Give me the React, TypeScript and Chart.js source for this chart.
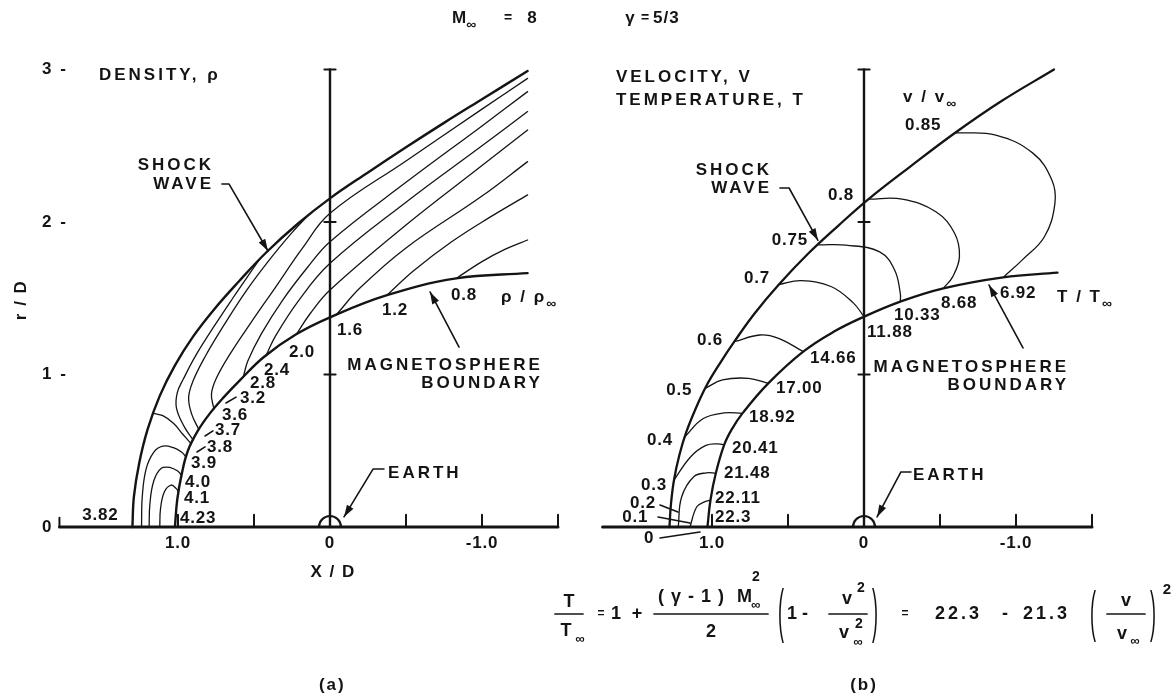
import { useEffect, useRef } from "react";
import { Chart, registerables } from "chart.js";

Chart.register(...registerables);

type Pt = [number, number];
type Tag = { text: string; x: number; y: number; align?: CanvasTextAlign };
type Leader = { pts: Pt[]; head: boolean };

// ---------------- panel (a): density field, rho / rho_inf ----------------
const shockA: Pt[] = [
  [1.3, 0], [1.29, 0.2], [1.255, 0.42], [1.2, 0.64], [1.12, 0.86], [1.02, 1.06], [0.9, 1.25],
  [0.76, 1.43], [0.6, 1.61], [0.42, 1.8], [0.21, 1.99], [0.0, 2.155], [-0.25, 2.325],
  [-0.5, 2.49], [-0.75, 2.65], [-1.0, 2.805], [-1.3, 2.99],
];
const boundaryA: Pt[] = [
  [1.02, 0], [1.005, 0.18], [0.975, 0.35], [0.935, 0.5], [0.87, 0.63], [0.79, 0.745], [0.7, 0.85],
  [0.59, 0.965], [0.435, 1.115], [0.22, 1.265], [0.0, 1.375], [-0.375, 1.52], [-0.83, 1.63], [-1.3, 1.665],
];
const rho41: Pt[] = [[1.12, 0], [1.115, 0.12], [1.09, 0.23], [1.045, 0.275], [1.01, 0.25], [0.997, 0.23]];
const rho40: Pt[] = [[1.19, 0], [1.185, 0.15], [1.16, 0.3], [1.11, 0.385], [1.05, 0.39], [1.0, 0.365], [0.978, 0.34]];
const rho39: Pt[] = [[1.24, 0], [1.235, 0.2], [1.21, 0.38], [1.16, 0.49], [1.1, 0.53], [1.03, 0.52], [0.975, 0.49], [0.948, 0.46]];
const rho38: Pt[] = [[1.162, 0.745], [1.1, 0.73], [1.03, 0.68], [0.97, 0.61], [0.913, 0.545]];
const rho37: Pt[] = [[0.9, 0.57], [0.96, 0.66], [1.01, 0.78], [1.005, 0.88], [0.965, 0.97], [0.88, 1.13], [0.76, 1.32], [0.64, 1.5], [0.53, 1.66], [0.46, 1.76]];
const rho36: Pt[] = [[0.863, 0.64], [0.91, 0.74], [0.93, 0.85], [0.9, 0.96], [0.82, 1.12], [0.7, 1.32], [0.55, 1.55], [0.4, 1.75], [0.25, 1.93], [0.15, 2.037]];
const rho32: Pt[] = [[0.764, 0.775], [0.78, 0.87], [0.75, 0.97], [0.66, 1.13], [0.52, 1.34], [0.36, 1.57], [0.18, 1.83], [0.0, 2.057], [-0.5, 2.4], [-1.0, 2.74], [-1.3, 2.942]];
const rho28: Pt[] = [[0.57, 0.986], [0.54, 1.09], [0.45, 1.27], [0.31, 1.49], [0.15, 1.7], [0.0, 1.871], [-0.5, 2.26], [-1.0, 2.63], [-1.3, 2.855]];
const rho24: Pt[] = [[0.42, 1.125], [0.36, 1.25], [0.21, 1.48], [0.0, 1.729], [-0.5, 2.13], [-1.0, 2.5], [-1.3, 2.724]];
const rho20: Pt[] = [[0.22, 1.265], [0.13, 1.4], [0.0, 1.554], [-0.5, 1.98], [-1.0, 2.37], [-1.3, 2.604]];
const rho16: Pt[] = [[-0.04, 1.39], [-0.2, 1.57], [-0.5, 1.83], [-1.0, 2.17], [-1.3, 2.396]];
const rho12: Pt[] = [[-0.375, 1.52], [-0.55, 1.68], [-0.8, 1.87], [-1.05, 2.03], [-1.3, 2.178]];
const rho08: Pt[] = [[-0.83, 1.63], [-1.0, 1.74], [-1.15, 1.82], [-1.3, 1.882]];
const rhoLines: Pt[][] = [rho41, rho40, rho39, rho38, rho37, rho36, rho32, rho28, rho24, rho20, rho16, rho12, rho08];

// ---------------- panel (b): velocity v / v_inf and temperature T / T_inf ----------------
const shockB: Pt[] = [
  [1.28, 0], [1.27, 0.15], [1.25, 0.308], [1.215, 0.47], [1.17, 0.62], [1.11, 0.77], [1.04, 0.92],
  [0.95, 1.07], [0.85, 1.22], [0.72, 1.4], [0.56, 1.59], [0.37, 1.79], [0.17, 1.975], [-0.03, 2.15],
  [-0.3, 2.36], [-0.6, 2.585], [-0.9, 2.79], [-1.25, 3.0],
];
const boundaryB: Pt[] = [
  [1.03, 0], [1.01, 0.177], [0.975, 0.352], [0.92, 0.538], [0.87, 0.64], [0.8, 0.745], [0.63, 0.942],
  [0.4, 1.15], [0.2, 1.28], [0.0, 1.379], [-0.239, 1.478], [-0.522, 1.565], [-0.916, 1.637], [-1.273, 1.668],
];
const v85: Pt[] = [[-0.6, 2.585], [-0.867, 2.57], [-1.113, 2.45], [-1.236, 2.275], [-1.256, 2.122], [-1.187, 1.903], [-1.04, 1.75], [-0.916, 1.637]];
const v80: Pt[] = [[-0.03, 2.15], [-0.251, 2.15], [-0.473, 2.067], [-0.596, 1.926], [-0.628, 1.773], [-0.584, 1.642], [-0.522, 1.565]];
const v75: Pt[] = [[0.3, 1.85], [0.118, 1.848], [-0.103, 1.804], [-0.202, 1.684], [-0.239, 1.531], [-0.239, 1.478]];
const v70: Pt[] = [[0.56, 1.59], [0.414, 1.615], [0.217, 1.577], [0.069, 1.468], [0.0, 1.379]];
const v60: Pt[] = [[0.853, 1.215], [0.685, 1.259], [0.562, 1.237], [0.4, 1.15]];
const v50: Pt[] = [[1.045, 0.909], [0.931, 0.964], [0.76, 0.975], [0.63, 0.942]];
const v40: Pt[] = [[1.178, 0.592], [1.06, 0.71], [0.92, 0.748], [0.8, 0.745]];
const v30: Pt[] = [[1.25, 0.308], [1.14, 0.461], [1.04, 0.535], [0.96, 0.545], [0.92, 0.538]];
const v20: Pt[] = [[1.222, 0], [1.2, 0.197], [1.12, 0.33], [1.035, 0.355], [0.975, 0.352]];
const v10: Pt[] = [[1.145, 0], [1.1, 0.133], [1.046, 0.166], [1.01, 0.177]];
const vLines: Pt[][] = [v85, v80, v75, v70, v60, v50, v40, v30, v20, v10];

// ---------------- axes ----------------
const xTickMarks = [1.0, 0.5, -0.5, -1.0, -1.5];
const xTickValues = [1.0, 0, -1.0];
const xTickText = ["1.0", "0", "-1.0"];
const yTickValues = [3, 2, 1, 0];
const yTickText = ["3 -", "2 -", "1 -", "0"];
const axisTickRows = [1, 2, 3];

// ---------------- annotations (data coordinates) ----------------
const rhoTags: Tag[] = [
  { text: "3.82", x: 1.63, y: 0.079 },
  { text: "4.23", x: 0.987, y: 0.059 },
  { text: "4.1", x: 0.96, y: 0.19 },
  { text: "4.0", x: 0.954, y: 0.295 },
  { text: "3.9", x: 0.914, y: 0.42 },
  { text: "3.8", x: 0.81, y: 0.525 },
  { text: "3.7", x: 0.757, y: 0.636 },
  { text: "3.6", x: 0.71, y: 0.734 },
  { text: "3.2", x: 0.592, y: 0.846 },
  { text: "2.8", x: 0.526, y: 0.944 },
  { text: "2.4", x: 0.434, y: 1.03 },
  { text: "2.0", x: 0.27, y: 1.148 },
  { text: "1.6", x: -0.046, y: 1.292 },
  { text: "1.2", x: -0.342, y: 1.423 },
  { text: "0.8", x: -0.796, y: 1.521 },
];
const leadersA: Leader[] = [
  { pts: [[0.711, 2.249], [0.664, 2.249], [0.408, 1.81]], head: true },
  { pts: [[-0.849, 1.18], [-0.658, 1.541]], head: true },
  { pts: [[-0.355, 0.38], [-0.283, 0.38], [-0.092, 0.066]], head: true },
  { pts: [[0.684, 0.813], [0.618, 0.852]], head: false },
  { pts: [[0.822, 0.597], [0.77, 0.63]], head: false },
  { pts: [[0.875, 0.492], [0.822, 0.525]], head: false },
];

const vTags: Tag[] = [
  { text: "0.85", x: -0.27, y: 2.636, align: "left" },
  { text: "0.8", x: 0.066, y: 2.177, align: "right" },
  { text: "0.75", x: 0.368, y: 1.882, align: "right" },
  { text: "0.7", x: 0.618, y: 1.633, align: "right" },
  { text: "0.6", x: 0.928, y: 1.226, align: "right" },
  { text: "0.5", x: 1.13, y: 0.898, align: "right" },
  { text: "0.4", x: 1.257, y: 0.57, align: "right" },
  { text: "0.3", x: 1.296, y: 0.275, align: "right" },
  { text: "0.2", x: 1.368, y: 0.157, align: "right" },
  { text: "0.1", x: 1.42, y: 0.066, align: "right" },
  { text: "0", x: 1.38, y: -0.072, align: "right" },
];
const tempTags: Tag[] = [
  { text: "22.3", x: 0.98, y: 0.066 },
  { text: "22.11", x: 0.98, y: 0.19 },
  { text: "21.48", x: 0.921, y: 0.354 },
  { text: "20.41", x: 0.868, y: 0.518 },
  { text: "18.92", x: 0.757, y: 0.721 },
  { text: "17.00", x: 0.579, y: 0.911 },
  { text: "14.66", x: 0.355, y: 1.108 },
  { text: "11.88", x: -0.02, y: 1.279 },
  { text: "10.33", x: -0.197, y: 1.39 },
  { text: "8.68", x: -0.507, y: 1.469 },
  { text: "6.92", x: -0.895, y: 1.534 },
];
const leadersB: Leader[] = [
  { pts: [[0.553, 2.223], [0.493, 2.223], [0.303, 1.88]], head: true },
  { pts: [[-1.046, 1.174], [-0.822, 1.587]], head: true },
  { pts: [[-0.309, 0.361], [-0.243, 0.361], [-0.086, 0.066]], head: true },
  { pts: [[1.342, 0.144], [1.224, 0.098]], head: false },
  { pts: [[1.355, 0.066], [1.145, 0.026]], head: false },
  { pts: [[1.342, -0.072], [1.079, -0.033]], head: false },
];

// ---------------- page frame ----------------
const W = 1176;
const H = 698;
const PX_X = 152;
const PX_Y = 152.5;
const ROW0 = 527;
const ORIGIN_A = 330;
const ORIGIN_B = 864;
const X_LEFT = 1.8;
const X_RIGHT = -1.5;
const Y_TOP = 3.1;
const INK = "#141414";
const FONT = "'Liberation Sans', 'DejaVu Sans', sans-serif";
const NUM = 0.8; // letter spacing for numerals
const CAPS = 3; // letter spacing for lettering

const line = (pts: Pt[], width: number, tension = 0.4) => ({
  data: pts.map(([x, y]) => ({ x, y })),
  showLine: true,
  borderColor: INK,
  backgroundColor: INK,
  borderWidth: width,
  pointRadius: 0,
  tension,
  fill: false,
  clip: false as const,
  borderCapStyle: "round" as const,
  borderJoinStyle: "round" as const,
});

function axisSets(leftEnd: number, leftEndTick: boolean) {
  const sets: any[] = [line([[leftEnd, 0], [X_RIGHT, 0]], 3, 0), line([[0, 0], [0, 3]], 2.4, 0)];
  for (const t of xTickMarks) sets.push(line([[t, 0], [t, 0.08]], 2, 0));
  if (leftEndTick) sets.push(line([[leftEnd, 0], [leftEnd, 0.06]], 2, 0));
  for (const r of axisTickRows) sets.push(line([[0.037, r], [-0.037, r]], 2, 0));
  return sets;
}

function put(ctx: CanvasRenderingContext2D, s: string, x: number, y: number, align: CanvasTextAlign = "left", size = 17, spacing = NUM) {
  ctx.font = `bold ${size}px ${FONT}`;
  (ctx as any).letterSpacing = `${spacing}px`;
  ctx.textAlign = align;
  ctx.textBaseline = "middle";
  ctx.fillText(s, x, y);
}

function withSub(ctx: CanvasRenderingContext2D, main: string, sub: string, x: number, y: number, size = 17, spacing = 2) {
  put(ctx, main, x, y, "left", size, spacing);
  const w = ctx.measureText(main).width;
  put(ctx, sub, x + w, y + 7, "left", Math.round(size * 0.8), 0);
}

function segs(ctx: CanvasRenderingContext2D, pts: [number, number][], width = 1.5) {
  ctx.lineWidth = width;
  ctx.beginPath();
  pts.forEach(([x, y], i) => (i ? ctx.lineTo(x, y) : ctx.moveTo(x, y)));
  ctx.stroke();
}

function arrowHead(ctx: CanvasRenderingContext2D, from: [number, number], to: [number, number]) {
  const a = Math.atan2(to[1] - from[1], to[0] - from[0]);
  const len = 12;
  const half = 3.8;
  ctx.beginPath();
  ctx.moveTo(to[0], to[1]);
  ctx.lineTo(to[0] - len * Math.cos(a) + half * Math.sin(a), to[1] - len * Math.sin(a) - half * Math.cos(a));
  ctx.lineTo(to[0] - len * Math.cos(a) - half * Math.sin(a), to[1] - len * Math.sin(a) + half * Math.cos(a));
  ctx.closePath();
  ctx.fill();
}

function bigParen(ctx: CanvasRenderingContext2D, ch: string, x: number, y: number, stretch: number) {
  ctx.save();
  ctx.translate(x, y);
  ctx.scale(1, stretch);
  ctx.font = `${18}px ${FONT}`;
  (ctx as any).letterSpacing = "0px";
  ctx.textAlign = "center";
  ctx.textBaseline = "middle";
  ctx.fillText(ch, 0, 0);
  ctx.restore();
}

function common(chart: Chart, tags: Tag[], leaders: Leader[]) {
  const ctx = chart.ctx;
  const X = (v: number) => chart.scales.x.getPixelForValue(v);
  const Y = (v: number) => chart.scales.y.getPixelForValue(v);
  ctx.fillStyle = INK;
  ctx.strokeStyle = INK;
  ctx.lineCap = "round";
  ctx.lineJoin = "round";

  // Earth at the origin
  ctx.lineWidth = 2.2;
  ctx.beginPath();
  ctx.arc(X(0), Y(0), 11, Math.PI, 2 * Math.PI);
  ctx.stroke();

  xTickValues.forEach((v, i) => put(ctx, xTickText[i], X(v), Y(-0.105), "center"));

  for (const t of tags) put(ctx, t.text, X(t.x), Y(t.y), t.align ?? "left");

  for (const l of leaders) {
    const p = l.pts.map(([x, y]) => [X(x), Y(y)] as [number, number]);
    segs(ctx, p, 1.6);
    if (l.head) arrowHead(ctx, p[p.length - 2], p[p.length - 1]);
  }
  return { ctx, X, Y };
}

function drawA(chart: Chart) {
  const { ctx, X, Y } = common(chart, rhoTags, leadersA);
  ctx.save();

  yTickValues.forEach((v, i) => put(ctx, yTickText[i], X(1.895), Y(v), "left", 17, 2));
  ctx.save();
  ctx.translate(X(2.033), Y(1.489));
  ctx.rotate(-Math.PI / 2);
  put(ctx, "r / D", 0, 0, "center", 17, 1.5);
  ctx.restore();
  put(ctx, "X / D", X(-0.02), Y(-0.3), "center", 17, 1.5);

  put(ctx, "DENSITY, ρ", X(1.52), Y(2.964), "left", 17, CAPS);
  put(ctx, "SHOCK", X(0.763), Y(2.374), "right", 17, CAPS);
  put(ctx, "WAVE", X(0.763), Y(2.249), "right", 17, CAPS);
  put(ctx, "MAGNETOSPHERE", X(-1.4), Y(1.062), "right", 17, CAPS);
  put(ctx, "BOUNDARY", X(-1.4), Y(0.944), "right", 17, CAPS);
  put(ctx, "EARTH", X(-0.382), Y(0.354), "left", 17, CAPS);
  withSub(ctx, "ρ / ρ", "∞", X(-1.125), Y(1.508));
  put(ctx, "(a)", X(-0.015), Y(-1.036), "center", 17, 2);

  // figure heading
  withSub(ctx, "M", "∞", 452, 18, 17, 0);
  put(ctx, "=", 508, 18, "center", 14, 0);
  put(ctx, "8", 532, 18, "center", 17, 0);
  put(ctx, "γ", 630, 18, "center", 17, 0);
  put(ctx, "=", 645, 18, "center", 14, 0);
  put(ctx, "5/3", 653, 18, "left", 17, 1);
  ctx.restore();
}

function drawFormula(ctx: CanvasRenderingContext2D) {
  const S = 18;
  const mid = 614;
  const bar = (x0: number, x1: number) => segs(ctx, [[x0, mid], [x1, mid]], 1.7);

  put(ctx, "T", 569, 602, "center", S, 0);
  bar(555, 583);
  put(ctx, "T", 566, 631, "center", S, 0);
  put(ctx, "∞", 580, 639, "center", 13, 0);

  put(ctx, "=", 601, mid, "center", 12, 0);
  put(ctx, "1", 616, mid, "center", S, 0);
  put(ctx, "+", 637, mid, "center", S, 0);

  put(ctx, "( γ - 1 )  M", 658, 597, "left", S, 1);
  const w = ctx.measureText("( γ - 1 )  M").width;
  put(ctx, "∞", 658 + w - 2, 605, "left", 13, 0);
  put(ctx, "2", 658 + w - 1, 577, "left", 14, 0);
  bar(654, 768);
  put(ctx, "2", 711, 632, "center", S, 0);

  bigParen(ctx, "(", 781, 615, 3.3);
  put(ctx, "1", 792, mid, "center", S, 0);
  put(ctx, "-", 805, mid, "center", S, 0);
  put(ctx, "v", 847, 599, "center", S, 0);
  put(ctx, "2", 861, 588, "center", 14, 0);
  bar(829, 867);
  put(ctx, "v", 844, 633, "center", S, 0);
  put(ctx, "2", 859, 624, "center", 14, 0);
  put(ctx, "∞", 858, 642, "center", 13, 0);
  bigParen(ctx, ")", 875, 615, 3.3);

  put(ctx, "=", 905, mid, "center", 12, 0);
  put(ctx, "22.3", 935, mid, "left", S, 3);
  put(ctx, "-", 1005, mid, "center", S, 0);
  put(ctx, "21.3", 1023, mid, "left", S, 3);

  bigParen(ctx, "(", 1093, 615, 3.1);
  put(ctx, "v", 1126, 601, "center", S, 0);
  bar(1107, 1145);
  put(ctx, "v", 1122, 634, "center", S, 0);
  put(ctx, "∞", 1135, 641, "center", 13, 0);
  bigParen(ctx, ")", 1153, 615, 3.1);
  put(ctx, "2", 1167, 590, "center", 15, 0);
}

function drawB(chart: Chart) {
  const { ctx, X, Y } = common(chart, [...vTags, ...tempTags], leadersB);
  ctx.save();
  put(ctx, "VELOCITY, V", X(1.632), Y(2.951), "left", 17, CAPS);
  put(ctx, "TEMPERATURE, T", X(1.632), Y(2.8), "left", 17, CAPS);
  withSub(ctx, "v / v", "∞", X(-0.257), Y(2.82));
  put(ctx, "SHOCK", X(0.605), Y(2.341), "right", 17, CAPS);
  put(ctx, "WAVE", X(0.605), Y(2.223), "right", 17, CAPS);
  put(ctx, "MAGNETOSPHERE", X(-1.349), Y(1.049), "right", 17, CAPS);
  put(ctx, "BOUNDARY", X(-1.349), Y(0.931), "right", 17, CAPS);
  put(ctx, "EARTH", X(-0.322), Y(0.341), "left", 17, CAPS);
  withSub(ctx, "T / T", "∞", X(-1.27), Y(1.508));
  put(ctx, "(b)", X(0), Y(-1.036), "center", 17, 2);
  drawFormula(ctx);
  ctx.restore();
}

function makeChart(canvas: HTMLCanvasElement, origin: number, datasets: any[], draw: (c: Chart) => void) {
  const left = origin - X_LEFT * PX_X;
  const right = W - (origin - X_RIGHT * PX_X);
  const top = ROW0 - Y_TOP * PX_Y;
  const bottom = H - ROW0;
  return new Chart(canvas, {
    type: "scatter",
    data: { datasets },
    options: {
      responsive: false,
      animation: false,
      events: [],
      devicePixelRatio: 1,
      layout: { padding: { left, right, top, bottom } },
      scales: {
        x: { type: "linear", min: X_RIGHT, max: X_LEFT, reverse: true, display: false },
        y: { type: "linear", min: 0, max: Y_TOP, display: false },
      },
      plugins: { legend: { display: false }, tooltip: { enabled: false } },
    },
    plugins: [{ id: "figureText", afterDatasetsDraw: (c: Chart) => draw(c) }],
  });
}

export default function App() {
  const aRef = useRef<HTMLCanvasElement>(null);
  const bRef = useRef<HTMLCanvasElement>(null);

  useEffect(() => {
    const setsA = [
      ...axisSets(1.78, true),
      line(shockA, 2.4),
      line(boundaryA, 2.4),
      ...rhoLines.map((p) => line(p, 1.3)),
    ];
    const setsB = [
      ...axisSets(1.72, false),
      line(shockB, 2.3),
      line(boundaryB, 2.3),
      ...vLines.map((p) => line(p, 1.3)),
    ];
    const a = makeChart(aRef.current!, ORIGIN_A, setsA, drawA);
    const b = makeChart(bRef.current!, ORIGIN_B, setsB, drawB);
    return () => {
      a.destroy();
      b.destroy();
    };
  }, []);

  return (
    <div style={{ position: "fixed", left: 0, top: 0, width: W, height: H, background: "#fff" }}>
      <canvas ref={aRef} width={W} height={H} style={{ position: "absolute", left: 0, top: 0 }} />
      <canvas ref={bRef} width={W} height={H} style={{ position: "absolute", left: 0, top: 0 }} />
    </div>
  );
}
